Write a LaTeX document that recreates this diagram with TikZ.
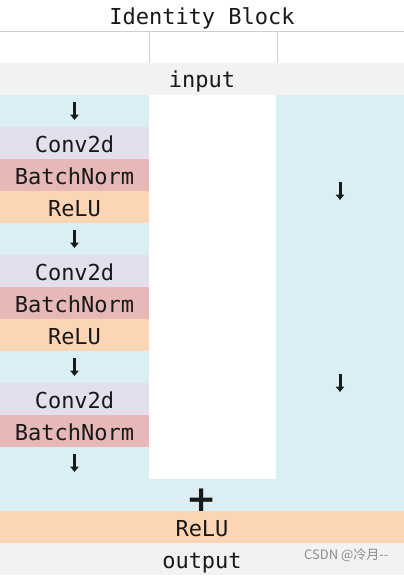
\documentclass[tikz,border=0pt]{standalone}
\usepackage{fontspec}
\setmonofont{DejaVu Sans Mono}
\newfontfamily\symfont{DejaVu Sans}
\newfontfamily\cjkfont{Noto Sans CJK SC}
\usetikzlibrary{arrows.meta,positioning}
\definecolor{XLblue}{HTML}{DAEEF3}
\definecolor{XLgray}{HTML}{F2F2F2}
\definecolor{XLconv}{HTML}{E4DFEC}
\definecolor{XLbn}{HTML}{E6B8B7}
\definecolor{XLrelu}{HTML}{FCD5B4}
\definecolor{XLgrid}{HTML}{D0D0D0}

\begin{document}
\begin{tikzpicture}[x=1pt,y=1pt,node distance=0pt,
  cell/.style={minimum width=149pt,minimum height=32pt,inner sep=0pt,outer sep=0pt,
    text height=20pt,text depth=2pt,
    font=\ttfamily\fontsize{22}{22}\selectfont,text=black!90},
  wide/.style={cell,minimum width=404pt},
  blue/.style={cell,fill=XLblue},
  conv/.style={cell,fill=XLconv},
  bn/.style={cell,fill=XLbn},
  relu/.style={cell,fill=XLrelu},
  gridline/.style={draw=XLgrid,line width=0.8pt},
  dnarrow/.style={-{Triangle[width=8.5pt,length=5.5pt]},line width=3pt,black!90}]
  \useasboundingbox (0,0) rectangle (404,-578);
  % header rows
  \node[wide,minimum height=31pt,anchor=north west] (title) at (0,0) {Identity Block};
  \node[cell,anchor=north west] (b1) at (title.south west) {};
  \node[cell,minimum width=128pt,right=of b1] (b2) {};
  \node[cell,minimum width=127pt,right=of b2] (b3) {};
  \node[wide,fill=XLgray,anchor=north west] (input) at (b1.south west) {input};
  \draw[gridline] (title.south west) -- (title.south east);
  \draw[gridline] (b1.north east) -- (b1.south east);
  \draw[gridline] (b2.north east) -- (b2.south east);
  % main path
  \node[blue,anchor=north west] (a1) at (input.south west) {};
  \node[conv,below=of a1] (c1) {Conv2d};
  \node[bn,below=of c1] (n1) {BatchNorm};
  \node[relu,below=of n1] (r1) {ReLU};
  \node[blue,below=of r1] (a2) {};
  \node[conv,below=of a2] (c2) {Conv2d};
  \node[bn,below=of c2] (n2) {BatchNorm};
  \node[relu,below=of n2] (r2) {ReLU};
  \node[blue,below=of r2] (a3) {};
  \node[conv,below=of a3] (c3) {Conv2d};
  \node[bn,below=of c3] (n3) {BatchNorm};
  \node[blue,below=of n3] (a4) {};
  % gap and shortcut
  \node[cell,minimum width=127pt,minimum height=384pt,fill=white,anchor=north west] (gap) at (a1.north east) {};
  \node[blue,minimum width=128pt,minimum height=192pt,anchor=north west] (s1) at (gap.north east) {};
  \node[blue,minimum width=128pt,minimum height=192pt,below=of s1] (s2) {};
  \foreach \c in {a1,a2,a3,a4,s1,s2}
    \draw[dnarrow] ([yshift=9pt]\c.center) -- ([yshift=-9pt]\c.center);
  % merge
  \node[wide,fill=XLblue,anchor=north west] (add) at (a4.south west)
     {\raisebox{-7pt}{\symfont\bfseries\fontsize{36}{36}\selectfont +}};
  \node[wide,fill=XLrelu,below=of add] (relu) {ReLU};
  \node[wide,fill=XLgray,below=of relu] (output) {output};
  \node[anchor=east,text=black!45,font=\cjkfont\fontsize{13}{13}\selectfont]
     (mark) at ([xshift=-12pt,yshift=4pt]output.east) {CSDN @冷月--};
\end{tikzpicture}
\end{document}
